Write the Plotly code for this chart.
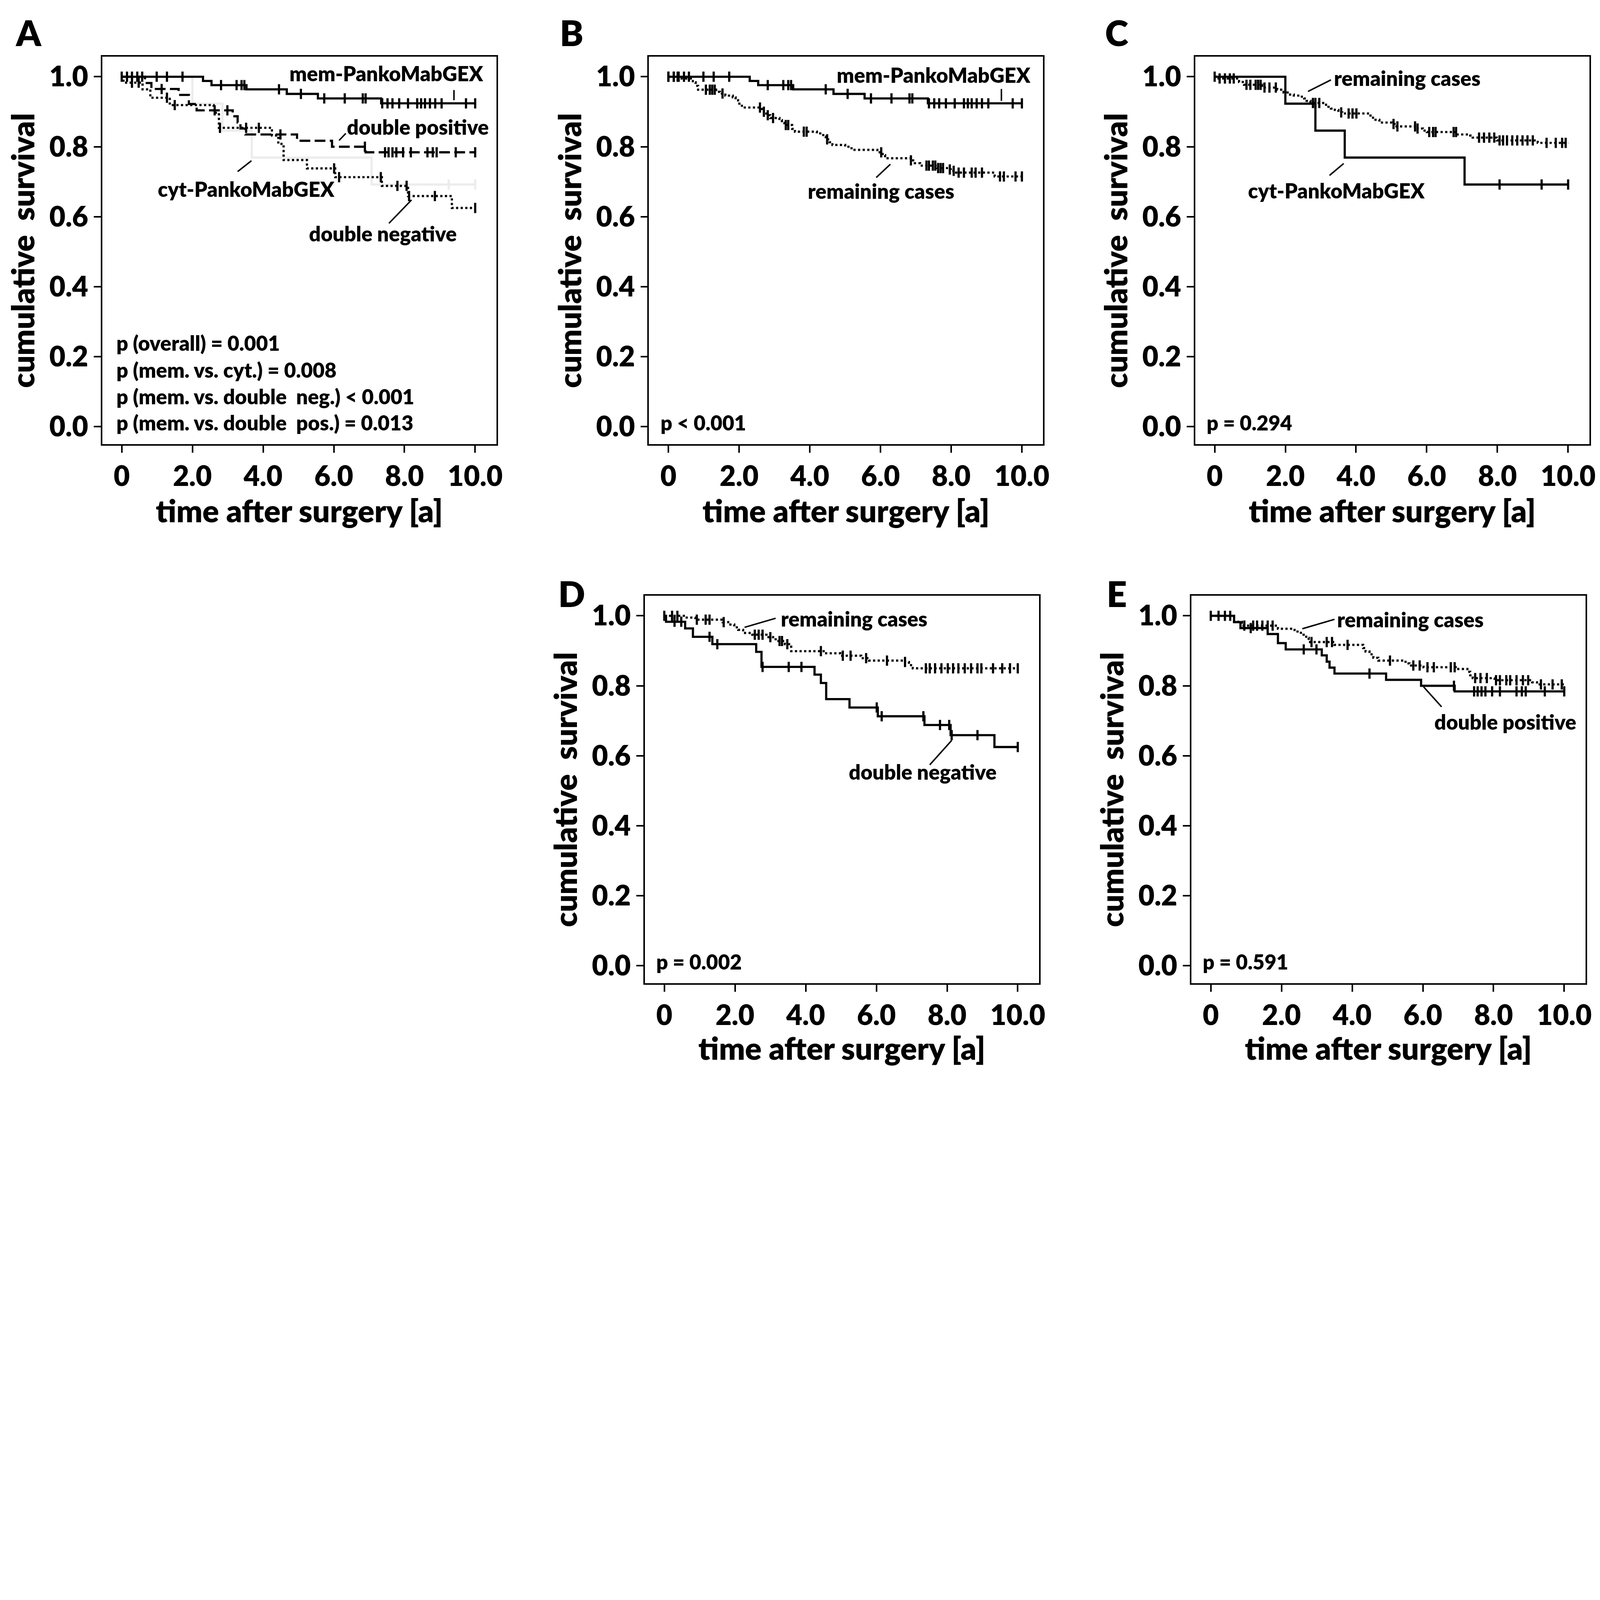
import plotly.graph_objects as go

# ---------------- data ----------------
x_tickvals = [0, 2, 4, 6, 8, 10]
x_ticktext = ["0", "2.0", "4.0", "6.0", "8.0", "10.0"]
y_tickvals = [0.0, 0.2, 0.4, 0.6, 0.8, 1.0]
y_ticktext = ["0.0", "0.2", "0.4", "0.6", "0.8", "1.0"]

# mem-PankoMabGEX
mem_t = [2.30, 2.54, 3.53, 4.67, 5.55, 7.34]
mem_s = [0.988, 0.976, 0.964, 0.951, 0.938, 0.924]
mem_c = [0.0, 0.15, 0.29, 0.44, 0.58, 0.99, 1.28, 1.72, 2.81, 3.25, 3.39, 3.47, 4.45, 5.07,
         5.73, 6.31, 6.82, 6.90, 7.37, 7.52, 7.66, 7.85, 8.10, 8.36, 8.47, 8.58, 8.72, 8.87,
         9.05, 9.74, 10.0]

# cyt-PankoMabGEX
cyt_t = [2.00, 2.85, 3.68, 7.07]
cyt_s = [0.923, 0.846, 0.769, 0.692]
cyt_c = [8.06, 9.25, 10.0]

# double negative
dneg_t = [0.05, 0.59, 0.81, 1.36, 2.60, 2.75, 4.25, 4.43, 4.58, 5.24, 6.04, 7.36, 8.10, 9.34]
dneg_s = [0.983, 0.964, 0.940, 0.919, 0.897, 0.854, 0.832, 0.808, 0.762, 0.738, 0.713, 0.688,
          0.659, 0.625]
dneg_c = [0.29, 0.48, 1.28, 1.50, 2.78, 3.52, 3.88, 6.01, 6.15, 7.33, 7.80, 8.06, 8.13, 8.86, 10.0]

# double positive
dpos_t = [0.66, 0.84, 1.61, 1.90, 2.12, 3.14, 3.28, 3.36, 3.50, 4.96, 5.95, 6.90]
dpos_s = [0.982, 0.965, 0.948, 0.922, 0.904, 0.887, 0.869, 0.852, 0.835, 0.817, 0.800, 0.784]
dpos_c = [1.13, 2.63, 2.99, 4.49, 6.88, 7.45, 7.55, 7.66, 7.77, 7.96, 8.18, 8.65, 8.80, 8.91,
          9.45, 10.0]

# remaining cases (panel B: all except mem)
remB_t = [0.33, 0.69, 0.77, 0.84, 1.35, 1.46, 1.61, 1.82, 1.90, 1.97, 2.04, 2.12, 2.63, 2.70,
          2.77, 2.88, 3.14, 3.21, 3.28, 3.50, 3.58, 4.20, 4.38, 4.45, 4.56, 4.64, 5.00, 5.18,
          5.91, 6.06, 6.13, 6.86, 6.97, 7.12, 7.59, 7.88, 7.99, 8.14, 9.23]
remB_s = [0.995, 0.984, 0.974, 0.963, 0.957, 0.952, 0.946, 0.941, 0.933, 0.923, 0.917, 0.912,
          0.908, 0.900, 0.890, 0.882, 0.876, 0.868, 0.862, 0.851, 0.843, 0.838, 0.829, 0.821,
          0.813, 0.805, 0.800, 0.791, 0.784, 0.776, 0.767, 0.761, 0.753, 0.746, 0.739, 0.735,
          0.731, 0.726, 0.715]
remB_c = [0.0, 0.15, 0.26, 1.06, 1.17, 1.24, 1.31, 1.53, 2.59, 2.70, 2.81, 2.96, 3.32, 3.39,
          3.83, 3.91, 4.49, 6.02, 6.86, 7.30, 7.37, 7.48, 7.55, 7.63, 7.70, 7.77, 7.96, 8.07,
          8.21, 8.36, 8.58, 8.69, 8.87, 9.38, 9.49, 9.82, 10.0]

# remaining cases (panel C: all except cyt)
remC_t = [0.11, 0.69, 0.83, 1.34, 1.77, 1.95, 2.10, 2.24, 2.42, 2.53, 2.60, 2.71, 3.07, 3.22,
          3.29, 3.40, 3.50, 3.61, 4.37, 4.44, 4.55, 4.66, 5.02, 5.09, 5.74, 5.89, 6.00, 6.86,
          7.23, 7.30, 7.98, 9.14]
remC_s = [0.995, 0.985, 0.977, 0.969, 0.963, 0.955, 0.949, 0.946, 0.943, 0.938, 0.931, 0.925,
          0.920, 0.914, 0.909, 0.905, 0.898, 0.895, 0.889, 0.883, 0.877, 0.869, 0.865, 0.858,
          0.852, 0.846, 0.842, 0.835, 0.832, 0.826, 0.818, 0.811]
remC_c = [0.0, 0.14, 0.29, 0.43, 0.54, 0.90, 1.01, 1.16, 1.23, 1.30, 1.41, 1.55, 1.73, 2.78,
          2.85, 2.96, 3.58, 3.79, 3.90, 4.01, 5.06, 5.17, 5.67, 5.74, 6.07, 6.18, 6.25, 6.76,
          6.83, 7.48, 7.62, 7.77, 7.91, 8.06, 8.16, 8.27, 8.42, 8.56, 8.71, 8.85, 9.00, 9.39,
          9.65, 9.83, 9.93]

# remaining cases (panel D: all except double negative)
remD_t = [0.59, 0.88, 1.65, 1.87, 1.98, 2.09, 2.23, 2.49, 2.89, 3.15, 3.41, 3.59, 4.54, 4.98,
          5.57, 5.79, 6.81, 6.92, 7.03]
remD_s = [0.995, 0.989, 0.982, 0.975, 0.967, 0.960, 0.951, 0.946, 0.939, 0.928, 0.919, 0.899,
          0.893, 0.886, 0.879, 0.872, 0.868, 0.859, 0.850]
remD_c = [0.0, 0.22, 0.37, 0.92, 1.17, 1.28, 1.68, 2.56, 2.67, 2.78, 3.00, 3.26, 3.33, 3.48,
          4.43, 5.05, 5.27, 5.71, 6.30, 6.81, 7.40, 7.51, 7.66, 7.84, 8.02, 8.17, 8.32, 8.50,
          8.68, 8.86, 8.97, 9.30, 9.56, 9.78, 10.0]

# remaining cases (panel E: all except double positive)
remE_t = [0.66, 0.88, 1.90, 2.37, 2.55, 2.70, 2.77, 3.50, 4.31, 4.38, 4.49, 4.60, 4.74, 5.51,
          5.62, 6.02, 6.93, 7.26, 7.34, 7.41, 8.03, 9.09, 9.23]
remE_s = [0.983, 0.972, 0.963, 0.955, 0.946, 0.937, 0.925, 0.917, 0.908, 0.898, 0.890, 0.880,
          0.872, 0.864, 0.858, 0.853, 0.848, 0.840, 0.830, 0.822, 0.816, 0.810, 0.804]
remE_c = [0.0, 0.22, 0.40, 0.55, 0.95, 1.20, 1.31, 1.46, 1.61, 1.75, 2.85, 3.28, 3.43, 3.87,
          5.07, 5.73, 5.91, 6.13, 6.31, 6.79, 6.90, 7.48, 7.63, 7.81, 8.07, 8.18, 8.36, 8.47,
          8.65, 8.83, 8.98, 9.34, 9.67, 9.93]

T_END = 10.0

# ---------------- sizing ----------------
# The reference is 6559 x 4359; the browser viewport is limited to 4096 px wide,
# so the whole figure is laid out at the same aspect ratio, scaled to 4096 px.
REF_W, REF_H = 6559, 4359
S = 4096 / REF_W
W, H = 4096, round(REF_H * S)


def px(v):
    return v * S


FONT = "Lato"
WEIGHT = 800
BLACK = "#000000"
GREY = "#ececec"
LW = px(9)
DOT = f"{px(9):.1f}px,{px(10):.1f}px"
DASH = f"{px(44):.1f}px,{px(18):.1f}px"


def step_xy(times, levels):
    xs = [0.0] + list(times) + [T_END]
    ys = [1.0] + list(levels) + [levels[-1]]
    return xs, ys


def surv_at(times, levels, x):
    s = 1.0
    for t, v in zip(times, levels):
        if x >= t:
            s = v
    return s


fig = go.Figure()


def add_curve(ax, times, levels, cens, dash, color=BLACK):
    xs, ys = step_xy(times, levels)
    xa = "x" if ax == 1 else f"x{ax}"
    ya = "y" if ax == 1 else f"y{ax}"
    fig.add_trace(go.Scatter(x=xs, y=ys, mode="lines", line_shape="hv",
                             line=dict(color=color, width=LW, dash=dash),
                             xaxis=xa, yaxis=ya, showlegend=False, hoverinfo="skip"))
    fig.add_trace(go.Scatter(x=cens, y=[surv_at(times, levels, c) for c in cens],
                             mode="markers",
                             marker=dict(symbol="line-ns-open", size=px(30), color=color,
                                         line=dict(color=color, width=px(9))),
                             xaxis=xa, yaxis=ya, showlegend=False, hoverinfo="skip"))


# Panel A
add_curve(1, cyt_t, cyt_s, cyt_c, "solid", GREY)
add_curve(1, mem_t, mem_s, mem_c, "solid")
add_curve(1, dpos_t, dpos_s, dpos_c, DASH)
add_curve(1, dneg_t, dneg_s, dneg_c, DOT)
# Panel B
add_curve(2, remB_t, remB_s, remB_c, DOT)
add_curve(2, mem_t, mem_s, mem_c, "solid")
# Panel C
add_curve(3, remC_t, remC_s, remC_c, DOT)
add_curve(3, cyt_t, cyt_s, cyt_c, "solid")
# Panel D
add_curve(4, remD_t, remD_s, remD_c, DOT)
add_curve(4, dneg_t, dneg_s, dneg_c, "solid")
# Panel E
add_curve(5, remE_t, remE_s, remE_c, DOT)
add_curve(5, dpos_t, dpos_s, dpos_c, "solid")

# ---------------- layout ----------------
# plot boxes in reference pixels: (left, right, top, bottom)
boxes = {
    1: (408, 2030, 220, 1808),
    2: (2658, 4280, 220, 1808),
    3: (4906, 6528, 220, 1808),
    4: (2641, 4263, 2430, 4018),
    5: (4890, 6512, 2430, 4018),
}

tickfont = dict(family=FONT, size=px(114), color=BLACK, weight=WEIGHT)
titlefont = dict(family=FONT, size=px(126), color=BLACK, weight=WEIGHT)

layout = dict(width=W, height=H, margin=dict(l=0, r=0, t=0, b=0), autosize=False,
              paper_bgcolor="white", plot_bgcolor="white", showlegend=False,
              font=dict(family=FONT, color=BLACK))

for k, (l, r, t, b) in boxes.items():
    xn = "xaxis" if k == 1 else f"xaxis{k}"
    yn = "yaxis" if k == 1 else f"yaxis{k}"
    anc_x = "y" if k == 1 else f"y{k}"
    anc_y = "x" if k == 1 else f"x{k}"
    common = dict(showline=True, mirror=True, linecolor=BLACK, linewidth=px(7),
                  ticks="outside", ticklen=px(28), tickwidth=px(7), tickcolor=BLACK,
                  showgrid=False, zeroline=False, tickfont=tickfont, fixedrange=True)
    layout[xn] = dict(domain=[l / REF_W, r / REF_W], anchor=anc_x, range=[-0.55, 10.6],
                      tickmode="array", tickvals=x_tickvals, ticktext=x_ticktext,
                      title=dict(text="time after surgery [a]", font=titlefont,
                                 standoff=px(40)),
                      **common)
    layout[yn] = dict(domain=[1 - b / REF_H, 1 - t / REF_H], anchor=anc_y,
                      range=[-0.05, 1.057],
                      tickmode="array", tickvals=y_tickvals, ticktext=y_ticktext,
                      title=dict(text="cumulative \u00a0survival", font=titlefont,
                                 standoff=px(20)),
                      **common)

fig.update_layout(**layout)

# ---------------- text annotations ----------------
lab_font = dict(family=FONT, size=px(84), color=BLACK, weight=WEIGHT)
anns = []


def txt(ax, x, y, s, anchor="left"):
    xr = "x" if ax == 1 else f"x{ax}"
    yr = "y" if ax == 1 else f"y{ax}"
    anns.append(dict(x=x, y=y, xref=xr, yref=yr, text=s, showarrow=False,
                     xanchor=anchor, yanchor="middle", font=lab_font))


# A
txt(1, 10.25, 1.01, "mem-PankoMabGEX", "right")
txt(1, 6.35, 0.857, "double positive")
txt(1, 1.0, 0.680, "cyt-PankoMabGEX")
txt(1, 5.28, 0.552, "double negative")
txt(1, -0.17, 0.240, "p (overall) = 0.001")
txt(1, -0.17, 0.163, "p (mem. vs. cyt.) = 0.008")
txt(1, -0.17, 0.087, "p (mem. vs. double \u00a0neg.) &lt; 0.001")
txt(1, -0.17, 0.012, "p (mem. vs. double \u00a0pos.) = 0.013")
# B
txt(2, 10.26, 1.006, "mem-PankoMabGEX", "right")
txt(2, 3.92, 0.674, "remaining cases")
txt(2, -0.25, 0.012, "p &lt; 0.001")
# C
txt(3, 3.35, 0.997, "remaining cases")
txt(3, 0.92, 0.675, "cyt-PankoMabGEX")
txt(3, -0.25, 0.012, "p = 0.294")
# D
txt(4, 3.28, 0.992, "remaining cases")
txt(4, 5.20, 0.555, "double negative")
txt(4, -0.25, 0.012, "p = 0.002")
# E
txt(5, 3.55, 0.990, "remaining cases")
txt(5, 6.30, 0.697, "double positive")
txt(5, -0.25, 0.012, "p = 0.591")

# panel letters (reference pixel positions)
letter_font = dict(family=FONT, size=px(145), color=BLACK, weight=WEIGHT)
for s, lx, ly in [("A", 104, 120), ("B", 2340, 120), ("C", 4583, 120),
                  ("D", 2340, 2420), ("E", 4583, 2420)]:
    anns.append(dict(x=lx / REF_W, y=1 - ly / REF_H, xref="paper", yref="paper", text=s,
                     showarrow=False, xanchor="center", yanchor="middle", font=letter_font))

fig.update_layout(annotations=anns)

# ---------------- leader lines ----------------
leaders = [
    (1, 9.40, 0.962, 9.40, 0.933),
    (1, 6.15, 0.818, 6.34, 0.838),
    (1, 3.28, 0.729, 3.67, 0.760),
    (1, 7.56, 0.581, 8.20, 0.648),
    (2, 9.42, 0.965, 9.42, 0.931),
    (2, 5.88, 0.712, 6.28, 0.750),
    (3, 2.64, 0.958, 3.29, 0.991),
    (3, 3.25, 0.718, 3.65, 0.752),
    (4, 2.27, 0.967, 3.15, 0.993),
    (4, 7.51, 0.574, 8.13, 0.644),
    (5, 2.59, 0.963, 3.50, 0.990),
    (5, 6.02, 0.797, 6.53, 0.740),
]
shapes = []
for ax, x0, y0, x1, y1 in leaders:
    xr = "x" if ax == 1 else f"x{ax}"
    yr = "y" if ax == 1 else f"y{ax}"
    shapes.append(dict(type="line", xref=xr, yref=yr, x0=x0, y0=y0, x1=x1, y1=y1,
                       line=dict(color=BLACK, width=px(6))))
fig.update_layout(shapes=shapes)

fig.write_html("out.html")
